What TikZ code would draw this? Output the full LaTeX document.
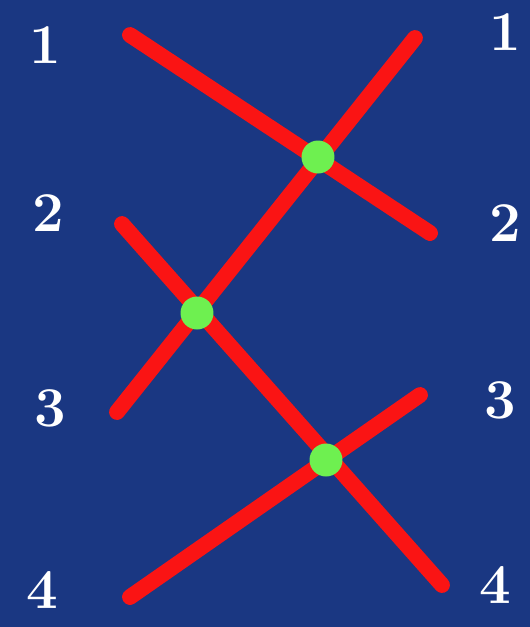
\documentclass[tikz,border=0pt]{standalone}
\definecolor{boardblue}{RGB}{26,55,130}
\definecolor{wirered}{RGB}{250,20,20}
\definecolor{dotgreen}{RGB}{110,240,80}
\begin{document}
\begin{tikzpicture}[x=0.02cm, y=-0.02cm,
  lbl/.style={text=white, font=\fontsize{32}{32}\selectfont\bfseries},
  wire/.style={wirered, line width=9pt, line cap=round},
  cross/.style={circle, fill=dotgreen, inner sep=0pt, minimum size=0.66cm}]
  % background
  \fill[boardblue] (0,0) rectangle (530,627);
  % labels left and right
  \node[lbl] (l1) at (45,45) {1};
  \node[lbl] (l2) at (48,213) {2};
  \node[lbl] (l3) at (50,408) {3};
  \node[lbl] (l4) at (42,590) {4};
  \node[lbl] (r1) at (505,32) {1};
  \node[lbl] (r2) at (505,223) {2};
  \node[lbl] (r3) at (500,400) {3};
  \node[lbl] (r4) at (495,585) {4};
  % wire ends
  \coordinate (a1) at (130,35);  \coordinate (a2) at (430,233);
  \coordinate (b1) at (415,38);  \coordinate (b2) at (117,412);
  \coordinate (c1) at (122,224); \coordinate (c2) at (442,585);
  \coordinate (d1) at (130,597); \coordinate (d2) at (420,395);
  \draw[wire] (a1) -- (a2);
  \draw[wire] (b1) -- (b2);
  \draw[wire] (c1) -- (c2);
  \draw[wire] (d1) -- (d2);
  % crossings
  \node[cross] (x1) at (318,157) {};
  \node[cross] (x2) at (197,313) {};
  \node[cross] (x3) at (326,460) {};
\end{tikzpicture}
\end{document}
